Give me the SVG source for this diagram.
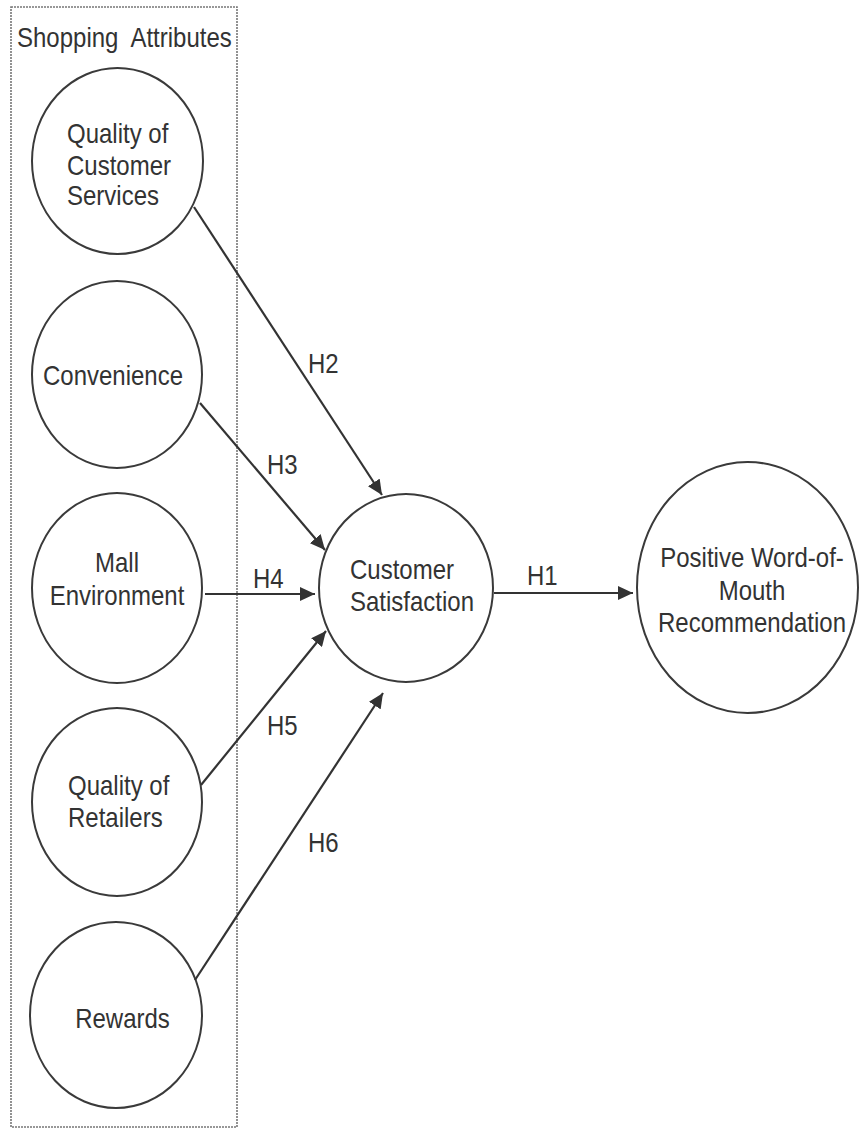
<svg xmlns="http://www.w3.org/2000/svg" width="860" height="1130" viewBox="0 0 860 1130">
<defs>
<style>
.node{fill:#fff;stroke:#3a3a3a;stroke-width:2}
.t{font-family:"Liberation Sans",Arial,sans-serif;font-size:24px;fill:#333}
.c{text-anchor:middle}
.edge{stroke:#333;stroke-width:2.2;fill:none;marker-end:url(#ah)}
.box{fill:none;stroke:#777;stroke-width:1.6;stroke-dasharray:2 1}
</style>
<marker id="ah" viewBox="0 0 15 14" refX="15" refY="7" markerWidth="15" markerHeight="14" markerUnits="userSpaceOnUse" orient="auto">
<path d="M0,0 L15,7 L0,14 z" fill="#333"/>
</marker>
</defs>
<rect width="860" height="1130" fill="#fff"/>
<g id="group-shopping-attributes">
<rect class="box" x="11" y="7" width="226" height="1120"/>
<text class="t" transform="matrix(1 0 0 1.15 17 47)">Shopping&#160; Attributes</text>
</g>
<g id="node-qcs">
<ellipse class="node" cx="117.5" cy="161" rx="85.5" ry="93"/>
<text class="t" transform="matrix(1 0 0 1.15 67 143)">Quality of</text>
<text class="t" transform="matrix(1 0 0 1.15 67 175)">Customer</text>
<text class="t" transform="matrix(1 0 0 1.15 67 205)">Services</text>
</g>
<g id="node-convenience">
<ellipse class="node" cx="117" cy="374.5" rx="85" ry="93.5"/>
<text class="t c" transform="matrix(1 0 0 1.15 113 385)">Convenience</text>
</g>
<g id="node-mall">
<ellipse class="node" cx="117" cy="588" rx="85" ry="95"/>
<text class="t c" transform="matrix(1 0 0 1.15 117 572)">Mall</text>
<text class="t c" transform="matrix(1 0 0 1.15 117 605)">Environment</text>
</g>
<g id="node-qr">
<ellipse class="node" cx="117" cy="802" rx="85" ry="94"/>
<text class="t" transform="matrix(1 0 0 1.15 68 795)">Quality of</text>
<text class="t" transform="matrix(1 0 0 1.15 68 827)">Retailers</text>
</g>
<g id="node-rewards">
<ellipse class="node" cx="116" cy="1015" rx="86" ry="93"/>
<text class="t c" transform="matrix(1 0 0 1.15 122.5 1028)">Rewards</text>
</g>
<g id="node-cs">
<ellipse class="node" cx="406" cy="588" rx="87" ry="94"/>
<text class="t" transform="matrix(1 0 0 1.15 350 579)">Customer</text>
<text class="t" transform="matrix(1 0 0 1.15 350 611)">Satisfaction</text>
</g>
<g id="node-pwom">
<ellipse class="node" cx="747.5" cy="587.5" rx="110.5" ry="125.5"/>
<text class="t c" transform="matrix(1 0 0 1.15 752 567)">Positive Word-of-</text>
<text class="t c" transform="matrix(1 0 0 1.15 752 600)">Mouth</text>
<text class="t c" transform="matrix(1 0 0 1.15 752 632)">Recommendation</text>
</g>
<g id="connectors">
<line class="edge" x1="194" y1="207" x2="382" y2="495"/>
<line class="edge" x1="200" y1="403" x2="325" y2="550"/>
<line class="edge" x1="205" y1="594" x2="315" y2="594"/>
<line class="edge" x1="201" y1="785" x2="326" y2="631"/>
<line class="edge" x1="195" y1="980" x2="383" y2="693"/>
<line class="edge" x1="494" y1="593" x2="633" y2="593"/>
<text class="t" transform="matrix(1 0 0 1.15 308 373)">H2</text>
<text class="t" transform="matrix(1 0 0 1.15 267 474)">H3</text>
<text class="t" transform="matrix(1 0 0 1.15 253 588)">H4</text>
<text class="t" transform="matrix(1 0 0 1.15 267 735)">H5</text>
<text class="t" transform="matrix(1 0 0 1.15 308 852)">H6</text>
<text class="t" transform="matrix(1 0 0 1.15 527 585)">H1</text>
</g>
</svg>
